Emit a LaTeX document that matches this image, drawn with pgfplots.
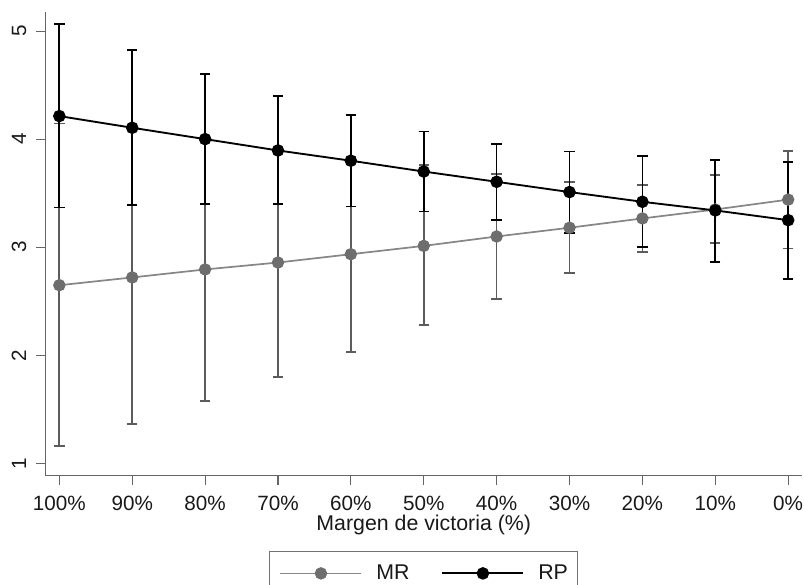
\documentclass[border=0pt]{standalone}
\usepackage{pgfplots}
\pgfplotsset{compat=1.18}
\usepackage{fontspec}
\setmainfont{Liberation Sans}
\definecolor{mrline}{gray}{0.53}
\definecolor{mrmark}{gray}{0.43}
\definecolor{mrerr}{gray}{0.36}
\definecolor{axcol}{gray}{0.40}

\pgfplotstableread{
x y ep em
0 2.648 1.497 1.491
1 2.720 1.360 1.359
2 2.794 1.216 1.217
3 2.858 1.062 1.062
4 2.935 0.905 0.905
5 3.012 0.748 0.734
6 3.099 0.577 0.579
7 3.180 0.420 0.418
8 3.266 0.308 0.310
9 3.349 0.321 0.312
10 3.440 0.450 0.452
}\mrtable

\pgfplotstableread{
x y ep em
0 4.213 0.849 0.846
1 4.105 0.719 0.716
2 4.000 0.602 0.600
3 3.895 0.503 0.497
4 3.800 0.420 0.423
5 3.700 0.371 0.370
6 3.605 0.352 0.352
7 3.510 0.376 0.376
8 3.420 0.423 0.420
9 3.340 0.470 0.479
10 3.250 0.540 0.543
}\rptable

\begin{document}
\begin{tikzpicture}
\begin{axis}[
  name=ax,
  scale only axis,
  width=567.5pt, height=348.2pt,
  xmin=-0.19, xmax=10.19,
  ymin=0.884, ymax=5.179,
  axis lines*=left,
  axis line style={draw=axcol, line width=0.8pt},
  every tick/.style={draw=axcol, line width=0.8pt},
  tick align=outside,
  major tick length=7pt,
  xtick={0,1,2,3,4,5,6,7,8,9,10},
  xticklabels={100\%,90\%,80\%,70\%,60\%,50\%,40\%,30\%,20\%,10\%,0\%},
  ytick={1,2,3,4,5},
  /pgf/number format/assume math mode=true,
  tick label style={font=\fontsize{15.5}{18}\selectfont, text=black!90, inner sep=1pt},
  yticklabel style={xshift=-7.6pt, rotate=90, anchor=base},
  xticklabel style={anchor=base, yshift=-18.9pt},
  xlabel={Margen de victoria (\%)},
  xlabel style={font=\fontsize{16}{19}\selectfont, text=black!90, inner sep=1pt, at={(axis description cs:0.5,0)}, anchor=base, yshift=-40.9pt},
  legend columns=2,
  legend style={
    at={(axis description cs:0.5,0)}, anchor=north, yshift=-56.5pt,
    draw=black!55, line width=0.8pt,
    font=\fontsize{16}{19}\selectfont,
    inner xsep=7.5pt, inner ysep=10pt,
    nodes={inner sep=0pt, text=black!90},
    column sep=10.5pt,
    /tikz/every even column/.append style={column sep=24pt},
  },
  legend image code/.code={\draw[mark repeat=2, mark phase=2, #1] plot coordinates {(0pt,0pt) (30.4pt,0pt) (60.75pt,0pt)}; \path (0pt,-10pt);},
  clip=false,
]
% error bars MR
\addplot[forget plot, draw=none, mark=none,
  error bars/.cd, y dir=both, y explicit,
  error bar style={draw=mrerr, line width=1.3pt},
  error mark options={rotate=90, mark size=3.9pt, draw=mrerr, line width=1.3pt}]
  table[x=x, y=y, y error plus=ep, y error minus=em] {\mrtable};
% error bars RP
\addplot[forget plot, draw=none, mark=none,
  error bars/.cd, y dir=both, y explicit,
  error bar style={draw=black, line width=1.3pt},
  error mark options={rotate=90, mark size=3.9pt, draw=black, line width=1.3pt}]
  table[x=x, y=y, y error plus=ep, y error minus=em] {\rptable};
% lines
\addplot[mrline, line width=1.3pt, mark=*, mark size=4pt, mark options={draw=mrmark, fill=mrmark}]
  table[x=x, y=y] {\mrtable};
\addlegendentry{MR}
\addplot[black, line width=1.4pt, mark=*, mark size=4pt, mark options={draw=black, fill=black}]
  table[x=x, y=y] {\rptable};
\addlegendentry{RP}
\end{axis}
\pgfresetboundingbox
\path[use as bounding box] ([xshift=-34.125pt, yshift=-81.375pt]ax.south west) rectangle ([xshift=1.5pt, yshift=8.775pt]ax.north east);
\end{tikzpicture}
\end{document}
